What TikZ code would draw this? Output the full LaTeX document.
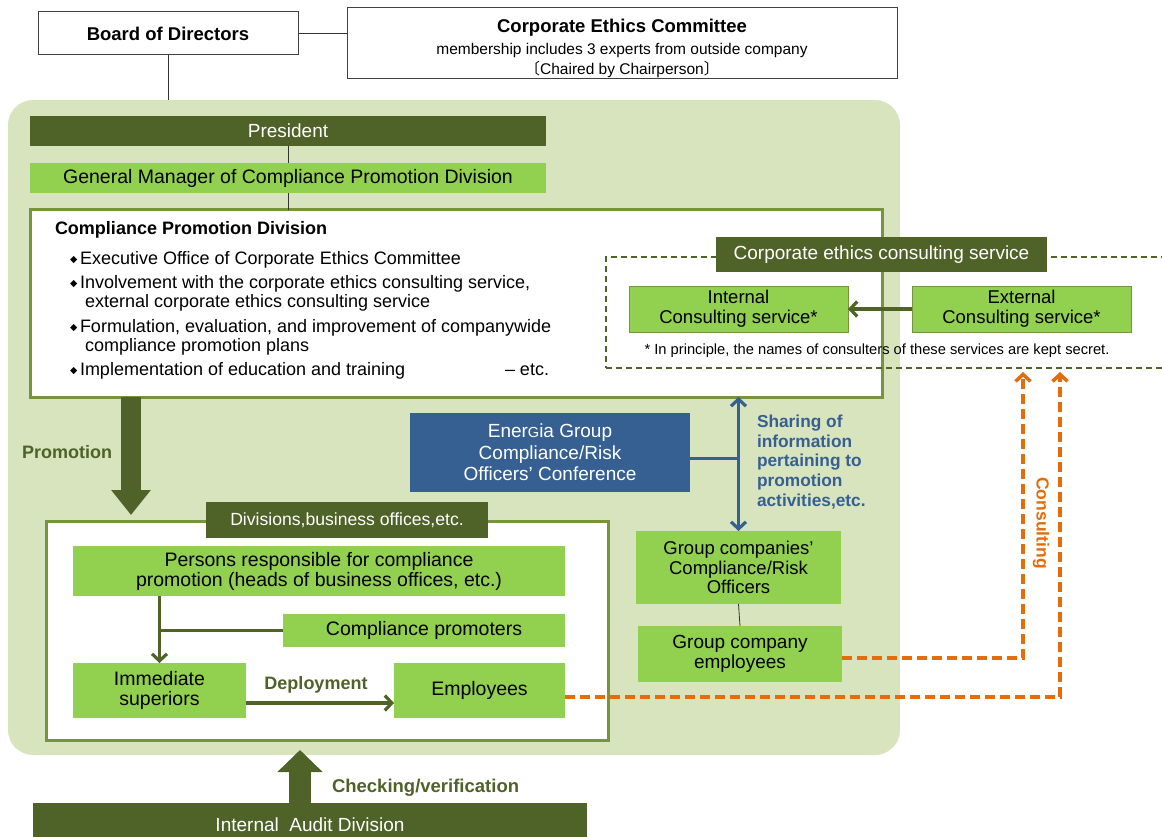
\documentclass[tikz,border=0pt]{standalone}
\usepackage{fontspec}
\setmainfont{Liberation Sans}
\newfontfamily\cjkfont{Noto Sans CJK JP}
\newfontfamily\symfont{DejaVu Sans}
\usetikzlibrary{arrows.meta,positioning,calc}
\definecolor{olivedark}{HTML}{4F6228}
\definecolor{olivemid}{HTML}{77933C}
\definecolor{leafgreen}{HTML}{92D050}
\definecolor{bgreen}{HTML}{D7E4BD}
\definecolor{confblue}{HTML}{376092}
\definecolor{consorange}{HTML}{E46C0A}
\newcommand{\fs}[2]{\fontsize{#1}{#2}\selectfont}
\newcommand{\bul}{\makebox[10pt][l]{\raisebox{2pt}{\symfont\fontsize{9.5}{9.5}\selectfont ◆}}}

\begin{document}
\begin{tikzpicture}[x=1pt, y=-1pt,
    every node/.style={inner sep=0pt, outer sep=0pt},
    plainbox/.style={draw=black!75, line width=1pt, fill=white},
    darkbar/.style={fill=olivedark, text=white},
    leafbox/.style={fill=leafgreen},
    framebox/.style={draw=olivemid, line width=3pt, fill=white},
    tag/.style={font=\bfseries\fs{18}{20}, text=olivedark},
    thinline/.style={draw=black!80, line width=0.8pt},
    barb/.style={-{Straight Barb[length=7pt,width=15pt]}},
    flow/.style={draw=olivedark, line width=3.2pt},
    orangedash/.style={draw=consorange, line width=3.5pt, dash pattern=on 10pt off 5pt}]
  \useasboundingbox (0,0) rectangle (1162,837);

  % Top level
  \node[plainbox, minimum width=260pt, minimum height=43pt, font=\bfseries\fs{18.5}{20}] (board) at (168,33.5) {Board of Directors};
  \node[plainbox, minimum width=550pt, minimum height=71pt] (ethics) at (622,43.5) {};
  \node[align=center, font=\fs{15.5}{20}] (ethicstext) at (622,48)
    {{\bfseries\fs{18.5}{20}Corporate Ethics Committee}\\[2pt]
     membership includes 3 experts from outside company\\
     {\cjkfont 〔}Chaired by Chairperson{\cjkfont 〕}};
  \draw[thinline] (board.east) -- (board.east -| ethics.west);

  % Company area
  \node[fill=bgreen, rounded corners=25pt, minimum width=892pt, minimum height=655pt] (bg) at (454,427.5) {};
  \draw[thinline] (board.south) -- (board.south |- bg.north);

  \node[darkbar, minimum width=516pt, minimum height=30pt, font=\fs{19}{21}] (president) at (288,131) {President};
  \node[leafbox, minimum width=516pt, minimum height=30pt, font=\fs{19.5}{21}] (gm) at (288,178) {General Manager of Compliance Promotion Division};
  \node[framebox, minimum width=852pt, minimum height=187pt] (cpd) at (456,303.5) {};
  \draw[thinline] (president.south) -- (gm.north);
  \draw[thinline] (gm.south) -- (gm.south |- cpd.north);

  \node[anchor=west, font=\bfseries\fs{18}{20}] (cpdtitle) at (55,230) {Compliance Promotion Division};
  \node[anchor=north west, align=left, font=\fs{18}{19}] (cpdlist) at (70,251)
    {\bul Executive Office of Corporate Ethics Committee\\[5pt]
     \bul Involvement with the corporate ethics consulting service,\\
     \hspace*{15pt}external corporate ethics consulting service\\[6pt]
     \bul Formulation, evaluation, and improvement of companywide\\
     \hspace*{15pt}compliance promotion plans\\[5pt]
     \makebox[435pt][l]{\bul Implementation of education and training}– etc.};

  % Consulting service
  \node[draw=olivedark, line width=2pt, dash pattern=on 6pt off 4pt, minimum width=580pt, minimum height=111pt] (csbox) at (896,312.5) {};
  \node[darkbar, minimum width=331pt, minimum height=35pt, font=\fs{19}{21}] (cshead) at (881.5,254.5) {Corporate ethics consulting service};
  \node[leafbox, draw=olivemid, line width=0.8pt, minimum width=219pt, minimum height=46pt, align=center, font=\fs{18.5}{20}] (internal) at (738.5,309) {Internal\\Consulting service*};
  \node[leafbox, draw=olivemid, line width=0.8pt, minimum width=219pt, minimum height=46pt, align=center, font=\fs{18.5}{20}] (external) at (1021.5,309) {External\\Consulting service*};
  \node[font=\fs{14.7}{16}] (note) at (877,351) {* In principle, the names of consulters of these services are kept secret.};
  \draw[flow, barb] (external) -- (internal);

  % Divisions
  \node[framebox, minimum width=562pt, minimum height=219pt] (div) at (327,630.5) {};
  \node[darkbar, minimum width=282pt, minimum height=36pt, font=\fs{17.6}{19}] (divhead) at (347,520) {Divisions,business offices,etc.};
  \node[leafbox, minimum width=492pt, minimum height=50pt, align=center, font=\fs{19.5}{20}] (persons) at (319,571) {Persons responsible for compliance\\promotion (heads of business offices, etc.)};
  \node[leafbox, minimum width=282pt, minimum height=33pt, font=\fs{19.5}{20}] (promoters) at (424,630.5) {Compliance promoters};
  \node[leafbox, minimum width=173pt, minimum height=55pt, align=center, font=\fs{19.5}{20}] (immsup) at (159.5,690.5) {Immediate\\superiors};
  \node[leafbox, minimum width=171pt, minimum height=55pt, font=\fs{19.5}{20}] (emp) at (479.5,690.5) {Employees};
  \draw[flow, barb] (persons.south -| immsup.north) -- (immsup.north);
  \draw[flow] (promoters.west) -- (promoters.west -| immsup.north);
  \draw[flow, barb] ([yshift=-12.5pt]immsup.east) -- ([yshift=-12.5pt]emp.west);
  \node[tag] (deploy) at (316,685) {Deployment};

  % Promotion
  \draw[olivedark, line width=20pt, -{Triangle[length=25pt,width=38pt]}] ($(cpd.south west)+(101,0)$) -- ($(div.north west)+(85,-6)$);
  \node[tag, anchor=west] (promo) at (22,452) {Promotion};

  % Group conference
  \node[fill=confblue, text=white, minimum width=280pt, minimum height=79pt, align=center, font=\fs{19}{21.5}] (energia) at (550,452.5)
    {Ener{\fs{14.5}{15}G}ia Group\\Compliance/Risk\\Officers' Conference};
  \node[leafbox, minimum width=205pt, minimum height=73pt, align=center, font=\fs{18.5}{19.5}] (gco) at (738.5,567.5) {Group companies'\\Compliance/Risk\\Officers};
  \node[leafbox, minimum width=204pt, minimum height=56pt, align=center, font=\fs{19}{20.5}] (gce) at (740,654) {Group company\\employees};
  \draw[thinline] (gco.south) -- (gce.north);
  \draw[confblue, line width=3.2pt, {Straight Barb[length=7pt,width=15pt]}-{Straight Barb[length=7pt,width=15pt]}] (cpd.south -| gco.north) -- (gco.north);
  \draw[confblue, line width=3.2pt] ([yshift=-6pt]energia.east) -- ([yshift=-6pt]energia.east -| gco.north);
  \node[anchor=west, align=left, text=confblue, font=\bfseries\fs{17.3}{19.7}] (sharing) at (757,462)
    {Sharing of\\information\\pertaining to\\promotion\\activities,etc.};

  % Consulting
  \coordinate (consA) at (1023,372);
  \coordinate (consB) at (1060,372);
  \draw[orangedash, barb] ([yshift=-4pt]gce.east) -| (consA);
  \draw[orangedash, barb] ([yshift=-6.5pt]emp.east) -| (consB);
  \node[rotate=-90, text=consorange, font=\bfseries\fs{17.5}{19}] (conslabel) at (1041,523) {Consulting};

  % Audit
  \node[darkbar, minimum width=554pt, minimum height=44pt, font=\fs{19}{21}] (audit) at (310,825) {Internal\ \ Audit Division};
  \draw[olivedark, line width=22pt, -{Triangle[length=22pt,width=44pt]}] ($(audit.north west)+(267,0)$) -- ($(div.south west)+(254,10)$);
  \node[tag, anchor=west, font=\bfseries\fs{18.5}{20}] (check) at (332,788) {Checking/verification};
\end{tikzpicture}
\end{document}
